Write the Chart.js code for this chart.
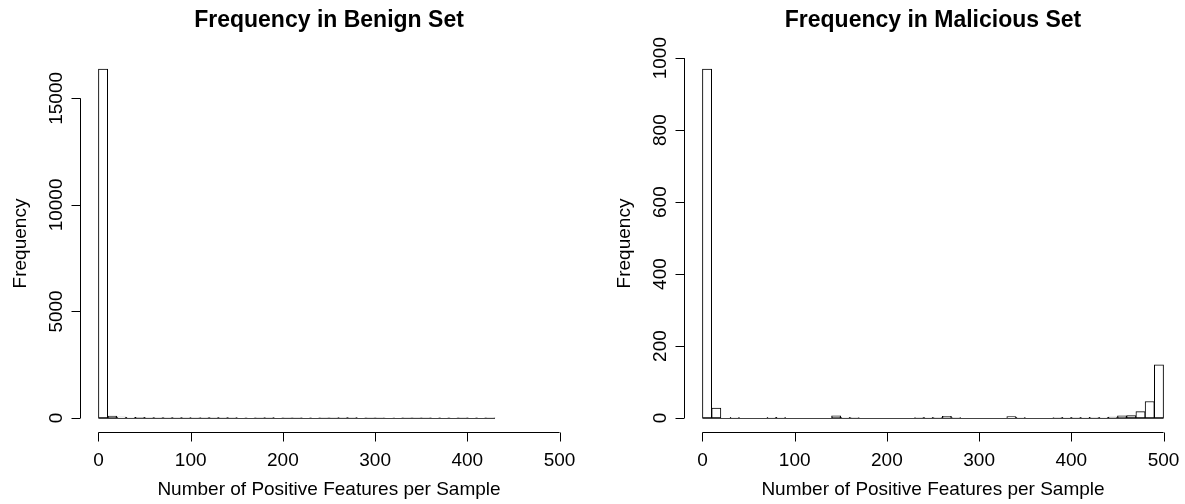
<!DOCTYPE html>
<html>
<head>
<title>Positive Features per Sample</title>
<style type="text/css">
  body { margin: 0; background: #fff; overflow: hidden; }
  .panel { position: absolute; top: 0; width: 600px; height: 504px; }
  #benign-box { left: 0; }
  #malicious-box { left: 604px; }
</style>
</head>
<body>
<div class="panel" id="benign-box"><canvas id="benign" width="600" height="504"></canvas></div>
<div class="panel" id="malicious-box"><canvas id="malicious" width="600" height="504"></canvas></div>

<script src="https://cdn.jsdelivr.net/npm/chart.js@4/dist/chart.umd.min.js"></script>
<script>
// histogram bins (left edge of each 10-wide bin)
var binStarts = [0, 10, 20, 30, 40, 50, 60, 70, 80, 90,
                 100, 110, 120, 130, 140, 150, 160, 170, 180, 190,
                 200, 210, 220, 230, 240, 250, 260, 270, 280, 290,
                 300, 310, 320, 330, 340, 350, 360, 370, 380, 390,
                 400, 410, 420, 430, 440, 450, 460, 470, 480, 490];
var binWidth = 10;

var benignCounts = [16380, 95, 40, 32, 28, 25, 22, 20, 24, 18,
                    6, 20, 18, 22, 16, 15, 14, 5, 16, 14,
                    6, 4, 15, 12, 5, 4, 16, 18, 14, 5,
                    4, 3, 15, 6, 4, 5, 14, 12, 10, 6,
                    12, 8, 5];

var maliciousCounts = [970, 28, 0, 2, 0, 0, 0, 2, 2, 0,
                       0, 0, 0, 0, 6, 2, 1, 0, 0, 0,
                       0, 0, 0, 1, 2, 1, 5, 1, 0, 0,
                       0, 0, 0, 4, 2, 0, 0, 0, 1, 2,
                       1, 2, 1, 2, 3, 6, 7, 18, 46, 148];

var xTicks = [0, 100, 200, 300, 400, 500];
var benignYTicks = [0, 5000, 10000, 15000];
var maliciousYTicks = [0, 200, 400, 600, 800, 1000];

var FONT = '"Liberation Sans", Arial, Helvetica, sans-serif';

// base-graphics style axes, titles and the zero line under empty bins
var rAxes = {
  id: 'rAxes',
  afterDatasetsDraw: function(chart, args, opts) {
    var ctx = chart.ctx;
    var x = chart.scales.x, y = chart.scales.y;
    var area = chart.chartArea;
    ctx.save();

    // zero line across all bins
    var y0 = Math.round(y.getPixelForValue(0)) + 0.5;
    ctx.strokeStyle = '#444';
    ctx.lineWidth = 1;
    ctx.beginPath();
    ctx.moveTo(x.getPixelForValue(binStarts[0]), y0);
    ctx.lineTo(x.getPixelForValue(binStarts[opts.bins - 1] + binWidth), y0);
    ctx.stroke();

    ctx.strokeStyle = '#000';
    ctx.fillStyle = '#000';
    ctx.font = '19px ' + FONT;

    // x axis
    var ax = Math.round(area.bottom) + 0.5;
    ctx.beginPath();
    ctx.moveTo(x.getPixelForValue(xTicks[0]), ax);
    ctx.lineTo(x.getPixelForValue(xTicks[xTicks.length - 1]), ax);
    xTicks.forEach(function(t) {
      var px = Math.round(x.getPixelForValue(t)) + 0.5;
      ctx.moveTo(px, ax);
      ctx.lineTo(px, ax + 9);
    });
    ctx.stroke();
    ctx.textAlign = 'center';
    ctx.textBaseline = 'alphabetic';
    xTicks.forEach(function(t) {
      ctx.fillText(String(t), x.getPixelForValue(t), ax + 33);
    });
    ctx.fillText('Number of Positive Features per Sample', (area.left + area.right) / 2, ax + 62);

    // y axis
    var ay = Math.round(area.left) + 0.5;
    var yt = opts.yTicks;
    ctx.beginPath();
    ctx.moveTo(ay, y.getPixelForValue(yt[0]));
    ctx.lineTo(ay, y.getPixelForValue(yt[yt.length - 1]));
    yt.forEach(function(t) {
      var py = Math.round(y.getPixelForValue(t)) + 0.5;
      ctx.moveTo(ay, py);
      ctx.lineTo(ay - 9, py);
    });
    ctx.stroke();
    yt.forEach(function(t) {
      ctx.save();
      ctx.translate(ay - 19, y.getPixelForValue(t));
      ctx.rotate(-Math.PI / 2);
      ctx.fillText(String(t), 0, 0);
      ctx.restore();
    });
    ctx.save();
    ctx.translate(ay - 55, (area.top + area.bottom) / 2);
    ctx.rotate(-Math.PI / 2);
    ctx.fillText('Frequency', 0, 0);
    ctx.restore();

    // main title
    ctx.font = 'bold 23px ' + FONT;
    ctx.fillText(opts.title, (area.left + area.right) / 2, 27);

    ctx.restore();
  }
};

function drawHist(canvasId, counts, yTicks, title) {
  var points = [];
  for (var i = 0; i < counts.length; i++) {
    points.push({ x: binStarts[i] + binWidth / 2, y: counts[i] });
  }
  var top = Math.max.apply(null, counts);
  return new Chart(document.getElementById(canvasId), {
    type: 'bar',
    data: {
      datasets: [{
        data: points,
        backgroundColor: '#ffffff',
        borderColor: '#000000',
        borderWidth: 1,
        borderSkipped: false,
        barPercentage: 1.0,
        categoryPercentage: 1.0
      }]
    },
    options: {
      responsive: false,
      animation: false,
      devicePixelRatio: 1,
      layout: { padding: { left: 80, right: 22, top: 55, bottom: 72 } },
      scales: {
        x: { type: 'linear', min: -20, max: 520, offset: false, display: false },
        y: { type: 'linear', min: -0.04 * top, max: 1.04 * top, display: false }
      },
      plugins: {
        legend: { display: false },
        tooltip: { enabled: false },
        rAxes: { yTicks: yTicks, title: title, bins: counts.length }
      }
    },
    plugins: [rAxes]
  });
}

drawHist('benign', benignCounts, benignYTicks, 'Frequency in Benign Set');
drawHist('malicious', maliciousCounts, maliciousYTicks, 'Frequency in Malicious Set');
</script>
</body>
</html>
